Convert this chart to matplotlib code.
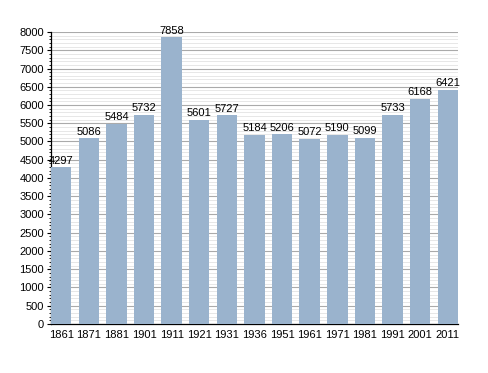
import matplotlib.pyplot as plt
from matplotlib.ticker import MultipleLocator

years = ["1861", "1871", "1881", "1901", "1911", "1921", "1931", "1936",
         "1951", "1961", "1971", "1981", "1991", "2001", "2011"]
population = [4297, 5086, 5484, 5732, 7858, 5601, 5727, 5184,
              5206, 5072, 5190, 5099, 5733, 6168, 6421]

plt.rcParams["font.family"] = ["Liberation Sans", "DejaVu Sans"]

fig = plt.figure(figsize=(4.88, 3.73), dpi=100)
ax = fig.add_axes([0.1045, 0.1314, 0.834, 0.7828])

x = range(len(years))
ax.bar(x, population, width=0.74, color="#9ab3cd", zorder=3)

# value labels on top of each bar
for i, v in zip(x, population):
    ax.text(i, v + 40, str(v), ha="center", va="bottom", fontsize=8, zorder=4)

ax.set_xlim(-0.37, len(years) - 1 + 0.37)
ax.set_ylim(0, 8000)
ax.set_xticks(list(x))
ax.set_xticklabels(years)
ax.yaxis.set_major_locator(MultipleLocator(500))
ax.yaxis.set_minor_locator(MultipleLocator(100))

ax.grid(axis="y", which="major", color="#aaaaaa", linewidth=0.8, zorder=0)
ax.grid(axis="y", which="minor", color="#e3e3e3", linewidth=0.6, zorder=0)

ax.spines["top"].set_visible(False)
ax.spines["right"].set_visible(False)
ax.spines["left"].set_linewidth(0.9)
ax.spines["bottom"].set_linewidth(0.9)
ax.tick_params(axis="x", length=0, labelsize=8, pad=4)
ax.tick_params(axis="y", which="major", length=3, labelsize=8, pad=2)
ax.tick_params(axis="y", which="minor", length=1.5)

plt.savefig("out.png", dpi=100)
plt.close()
